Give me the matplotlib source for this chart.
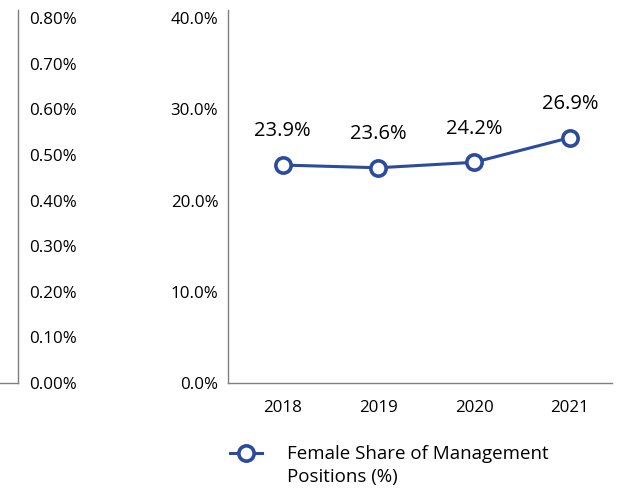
import matplotlib
matplotlib.use("Agg")
import matplotlib.pyplot as plt
from matplotlib.ticker import FuncFormatter

years = ["2018", "2019", "2020", "2021"]
female_share = [23.9, 23.6, 24.2, 26.9]
left_ticks = [0.0, 0.1, 0.2, 0.3, 0.4, 0.5, 0.6, 0.7, 0.8]
right_ticks = [0, 10, 20, 30, 40]

blue = "#2b4c9e"
spine_col = "#7f7f7f"
plt.rcParams["font.family"] = ["Open Sans", "DejaVu Sans"]

fig = plt.figure(figsize=(6.23, 4.99), dpi=100)

# leftover axis from the neighbouring panel
ax0 = fig.add_axes([0.0, 1 - 383 / 499, 18 / 623, 373 / 499])
ax0.set_xlim(0, 1)
ax0.set_ylim(0, 0.818)
for s in ["top", "left"]:
    ax0.spines[s].set_visible(False)
for s in ["right", "bottom"]:
    ax0.spines[s].set_color(spine_col)
    ax0.spines[s].set_linewidth(1)
ax0.set_xticks([])
ax0.yaxis.tick_right()
ax0.set_yticks(left_ticks)
ax0.yaxis.set_major_formatter(FuncFormatter(lambda v, p: f"{v:.2f}%"))
ax0.tick_params(axis="y", length=0, pad=8, labelsize=12.2)
ax0.patch.set_alpha(0)

ax = fig.add_axes([228 / 623, 1 - 383 / 499, 384 / 623, 373 / 499])
x = range(len(years))
ax.plot(x, female_share, color=blue, lw=2.2, marker="o", ms=11,
        mfc="white", mec=blue, mew=2.6, label="Female Share of Management",
        zorder=3)
for i, v in enumerate(female_share):
    ax.annotate(f"{v:.1f}%", (i, v), xytext=(0, 17), textcoords="offset points",
                ha="center", va="bottom", fontsize=14.5)

ax.set_xlim(-0.57, 3.44)
ax.set_ylim(0, 40.9)
ax.set_xticks(list(x))
ax.set_xticklabels(years)
ax.set_yticks(right_ticks)
ax.yaxis.set_major_formatter(FuncFormatter(lambda v, p: f"{v:.1f}%"))
ax.tick_params(length=0, labelsize=12.2)
ax.tick_params(axis="y", pad=7)
ax.tick_params(axis="x", pad=12)
for s in ["top", "right"]:
    ax.spines[s].set_visible(False)
for s in ["left", "bottom"]:
    ax.spines[s].set_color(spine_col)
    ax.spines[s].set_linewidth(1)

leg = ax.legend(loc="upper left", bbox_to_anchor=(-0.04, -0.122), frameon=False,
                fontsize=13.5, handlelength=1.75, handletextpad=1.3)
# second line of the legend label, hung under the first (drawn after the legend)
ax.annotate("Positions (%)", xy=(0, 0), xycoords=leg.get_texts()[0],
            xytext=(0, -3), textcoords="offset points", ha="left", va="top",
            fontsize=13.5, zorder=6, annotation_clip=False)

fig.savefig("out.png", dpi=100)
